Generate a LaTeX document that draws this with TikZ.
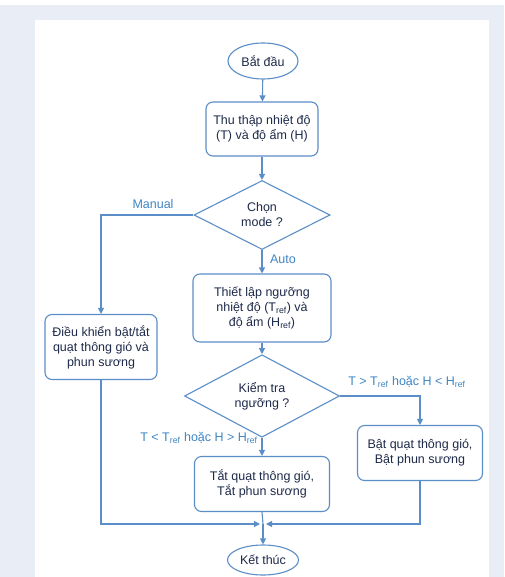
\documentclass[tikz,border=0pt]{standalone}
\usepackage{fontspec}
\setmainfont{Liberation Sans}
\usetikzlibrary{shapes.geometric,arrows.meta}
\definecolor{bgc}{HTML}{E8EDF6}
\definecolor{linec}{HTML}{5B8EC6}
\definecolor{txtc}{HTML}{1E2A4A}
\definecolor{labc}{HTML}{3F86C4}
\newcommand{\rf}{\textsubscript{ref}}
\begin{document}
\begin{tikzpicture}[x=1pt,y=1pt,
  font=\fontsize{12.5}{15}\selectfont,
  every node/.style={text=txtc},
  procbox/.style={draw=linec,line width=1.1pt,rounded corners=7pt,align=center,fill=white,inner sep=2pt},
  termnode/.style={draw=linec,line width=1.1pt,ellipse,fill=white,inner sep=0pt},
  decide/.style={draw=linec,line width=1.1pt,diamond,fill=white,align=center,inner sep=0pt},
  lab/.style={text=labc},
  arr/.style={draw=linec,line width=1.1pt,-{Triangle[length=6pt,width=6pt]}},
  ln/.style={draw=linec,line width=1.1pt}]
\useasboundingbox (0,0) rectangle (504,-577);
\fill[bgc] (0,-5) rectangle (504,-577);
\fill[white] (35,-20) rectangle (489,-577);

\node[termnode,minimum width=70pt,minimum height=36pt] (start) at (263,-61) {Bắt đầu};
\node[procbox,minimum width=112pt,minimum height=54pt] (collect) at (262,-129) {Thu thập nhiệt độ\\(T) và độ ẩm (H)};
\node[decide,minimum width=136pt,minimum height=69pt] (mode) at (262,-215) {Chọn\\mode ?};
\node[procbox,minimum width=112pt,minimum height=65pt] (manual) at (101,-347) {Điều khiển bật/tắt\\quạt thông gió và\\phun sương};
\node[procbox,minimum width=138pt,minimum height=68pt] (setup) at (262,-308) {Thiết lập ngưỡng\\nhiệt độ (T\rf) và\\độ ẩm (H\rf)};
\node[decide,minimum width=155pt,minimum height=62pt] (check) at (262,-396) {Kiểm tra\\ngưỡng ?};
\node[procbox,minimum width=125pt,minimum height=55pt] (on) at (420,-453) {Bật quạt thông gió,\\Bật phun sương};
\node[procbox,minimum width=135pt,minimum height=55pt] (off) at (262,-484) {Tắt quạt thông gió,\\Tắt phun sương};
\node[termnode,minimum width=71pt,minimum height=30pt] (end) at (263,-560) {Kết thúc};
\coordinate (j) at (263,-524);

\node[lab] (lmanual) at (153,-204) {Manual};
\node[lab] (lauto) at (283,-259) {Auto};
\node[lab] (lhigh) at (407,-382) {T > T\rf{} hoặc H < H\rf};
\node[lab] (llow) at (199,-438) {T < T\rf{} hoặc H > H\rf};

\draw[arr] (start) -- (collect);
\draw[arr] (collect) -- (mode);
\draw[arr] (mode.west) -| (manual.north);
\draw[arr] (mode.south) -- (setup.north);
\draw[arr] (setup) -- (check);
\draw[arr] (check.east) -| (on.north);
\draw[arr] (check.south) -- (off.north);
\draw[ln] (off.south) -- (j);
\draw[arr,shorten >=3pt] (manual.south) |- (j);
\draw[arr,shorten >=3pt] (on.south) |- (j);
\draw[arr] (j) -- (end.north);
\end{tikzpicture}
\end{document}
